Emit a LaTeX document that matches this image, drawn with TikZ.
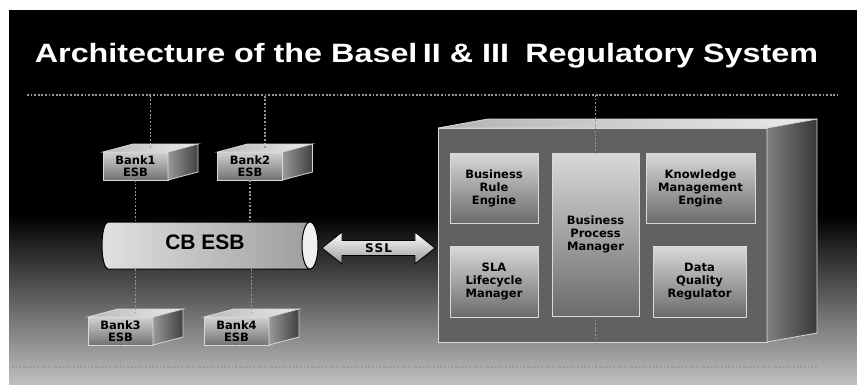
\documentclass[tikz,border=0pt]{standalone}
\usepackage{fontspec}
\setmainfont{Liberation Sans}
\newfontfamily\boxfont{DejaVu Sans}
\usetikzlibrary{shapes.arrows, calc}

\begin{document}
\begin{tikzpicture}[x=1pt, y=1pt,
    face/.style={draw=white!85!black, line width=0.8pt},
    bank/.style={rectangle, face, outer sep=0pt, inner sep=0pt, minimum width=65, minimum height=28, top color=black!18, bottom color=black!55, align=center, font=\boxfont\fontsize{11.5}{12}\selectfont\bfseries},
    module/.style={rectangle, face, outer sep=0pt, inner sep=0pt, top color=black!15, bottom color=black!58, align=center, font=\boxfont\fontsize{11.5}{13}\selectfont\bfseries},
    link/.style={draw=black!40, line width=1.8pt, dash pattern=on 1.8pt off 1.8pt}
]
    % background
    \useasboundingbox (0,0) rectangle (857,384);
    \fill[black] (9,169) rectangle (857,374);
    \fill[top color=black, bottom color=black!25] (9,0) rectangle (857,169.5);

    \node[anchor=base, text=white, font=\fontsize{26.5}{30}\selectfont\bfseries] (title) at (426.5,322) {\scalebox{1.22}[1]{Architecture of the Basel\,II \& III\enspace Regulatory System}};

    % dotted rails
    \coordinate (topL) at (27,289);
    \coordinate (topR) at (838,289);
    \coordinate (botL) at (12,17);
    \coordinate (botR) at (817,17);
    \draw[link] (topL) -- (topR);
    \draw[link] (botL) -- (botR);

    % regulatory system box
    \node[face, outer sep=0pt, fill=black!62, minimum width=329, minimum height=214] (bigbox) at (602.5,149) {};
    \draw[face, left color=black!30, right color=black!8] (bigbox.north west) -- ++(50,9) -- ++(329,0) -- (bigbox.north east) -- cycle;
    \draw[face, left color=black!50, right color=black!78] (bigbox.north east) -- ++(50,9) -- ++(0,-214) -- (bigbox.south east) -- cycle;

    \node[module, minimum width=88, minimum height=70] (bre) at (494,196) {Business\\Rule\\Engine};
    \node[module, minimum width=87, minimum height=163] (bpm) at (595.5,149.5) {Business\\Process\\Manager};
    \node[module, minimum width=109, minimum height=70] (kme) at (700.5,196) {Knowledge\\Management\\Engine};
    \node[module, minimum width=88, minimum height=71] (sla) at (494,102.5) {SLA\\Lifecycle\\Manager};
    \node[module, minimum width=93, minimum height=71] (dqr) at (699.5,102.5) {Data\\Quality\\Regulator};

    \draw[link] (bpm.north |- topL) -- (bpm.north);
    \draw[link] (bpm.south) -- (bpm.south |- botL);

    % bank ESBs
    \node[bank] (bank1) at (135.5,218) {Bank1\\ESB};
    \node[bank] (bank2) at (250,218) {Bank2\\ESB};
    \node[bank] (bank3) at (120.5,53) {Bank3\\ESB};
    \node[bank] (bank4) at (236.5,53) {Bank4\\ESB};
    \foreach \b in {bank1,bank2,bank3,bank4} {
        \draw[face, left color=black!28, right color=black!8] (\b.north west) -- ++(30,8) -- ++(65,0) -- (\b.north east) -- cycle;
        \draw[face, left color=black!40, right color=black!75] (\b.north east) -- ++(30,8) -- ++(0,-28) -- (\b.south east) -- cycle;
        \coordinate (\b-top) at ($(\b.north)+(15,4)$);
    }

    % CB ESB pipe
    \node[minimum width=202, minimum height=47, inner sep=0pt, outer sep=0pt] (cbesb) at (209,138.5) {};
    \draw[line width=1pt, left color=black!12, right color=black!38] (cbesb.north east) -- (cbesb.north west) arc[start angle=90, end angle=270, x radius=6, y radius=23.5] -- (cbesb.south east) -- cycle;
    \draw[line width=1pt, fill=black!6] (cbesb.east) ellipse[x radius=8, y radius=23.5];
    \node[font=\fontsize{21}{22}\selectfont\bfseries] (cblabel) at (205,142) {CB ESB};

    \draw[link] (bank1-top) -- (bank1-top |- topL);
    \draw[link] (bank2-top) -- (bank2-top |- topL);
    \draw[link] (bank1.south) -- (bank1.south |- cbesb.north);
    \draw[link] (bank2.south) -- (bank2.south |- cbesb.north);
    \draw[link] (bank3-top |- cbesb.south) -- (bank3-top);
    \draw[link] (bank4-top |- cbesb.south) -- (bank4-top);
    \draw[link] (bank3.south) -- (bank3.south |- botL);
    \draw[link] (bank4.south) -- (bank4.south |- botL);

    % SSL link
    \node[double arrow, draw=black, line width=0.8pt, top color=white, bottom color=black!40, minimum height=113, double arrow head extend=8.5, double arrow tip angle=77, inner ysep=2.5pt, inner xsep=2pt, font=\boxfont\fontsize{12}{13}\selectfont\bfseries] (ssl) at (378.5,136) {S\kern1pt S\kern1pt L};
\end{tikzpicture}
\end{document}
